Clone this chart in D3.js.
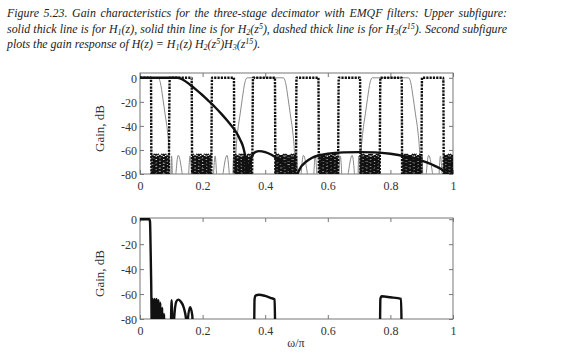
<!DOCTYPE html>
<html><head><meta charset="utf-8">
<script src="https://cdn.jsdelivr.net/npm/d3@7/dist/d3.min.js"></script>
<style>body{margin:0;background:#fff}svg{display:block}</style>
</head><body>
<svg id="c" width="582" height="356"></svg>
<script>
const xTicks = [0, 0.2, 0.4, 0.6, 0.8, 1];
const xTickLabels = ["0", "0.2", "0.4", "0.6", "0.8", "1"];
const yTicks = [0, -20, -40, -60, -80];
const yTickLabels = ["0", "-20", "-40", "-60", "-80"];

// H1(z): solid thick
const h1 = [[0,0],[0.12,0],[0.13,-0.6],[0.14,-2],[0.15,-3.8],[0.16,-5.8],[0.18,-10],[0.2,-14.5],[0.22,-19.5],[0.24,-24.5],[0.26,-30],[0.28,-36],[0.30,-42.5],[0.31,-46.5],[0.32,-51.5],[0.33,-58],[0.336,-66],[0.34,-80],[0.343,-95],
 [0.346,-80],[0.352,-70],[0.36,-64],[0.37,-61.5],[0.38,-61],[0.40,-61.8],[0.42,-64],[0.44,-67.5],[0.46,-72],[0.48,-78],[0.49,-84],[0.495,-95],
 [0.50,-84],[0.51,-76],[0.53,-70],[0.55,-66.5],[0.6,-63.2],[0.65,-62],[0.7,-61.8],[0.75,-62],[0.8,-63.2],[0.85,-65.5],[0.9,-69],[0.94,-73],[0.97,-77.5],[0.985,-82],[1,-90]];

// H2(z^5): solid thin gray
const h2 = [[0,0],[0.058,0],[0.065,-4],[0.073,-17],[0.08,-30],[0.088,-45],[0.093,-60],[0.096,-80],[0.098,-100],
 [0.101,-65],[0.106,-100],[0.122,-64.5],[0.150,-100],[0.160,-65],[0.171,-100],[0.185,-65],[0.200,-100],[0.215,-65],[0.229,-100],[0.240,-65],[0.250,-100],[0.278,-64.5],[0.294,-100],[0.299,-65],
 [0.302,-100],[0.304,-80],[0.307,-60],[0.312,-45],[0.32,-30],[0.327,-17],[0.335,-4],[0.342,0],[0.458,0],[0.465,-4],[0.473,-17],[0.48,-30],[0.488,-45],[0.493,-60],[0.496,-80],[0.498,-100],
 [0.501,-65],[0.506,-100],[0.522,-64.5],[0.550,-100],[0.560,-65],[0.571,-100],[0.585,-65],[0.600,-100],[0.615,-65],[0.629,-100],[0.640,-65],[0.650,-100],[0.678,-64.5],[0.694,-100],[0.699,-65],
 [0.702,-100],[0.704,-80],[0.707,-60],[0.712,-45],[0.72,-30],[0.727,-17],[0.735,-4],[0.742,0],[0.858,0],[0.865,-4],[0.873,-17],[0.88,-30],[0.888,-45],[0.893,-60],[0.896,-80],[0.898,-100],
 [0.901,-65],[0.906,-100],[0.922,-64.5],[0.950,-100],[0.960,-65],[0.971,-100],[0.985,-65],[1.0,-100]];

// H3(z^15): dashed thick
const h3 = [[0,0],
 [0.035,0],[0.037,-100],[0.040,-64],[0.043,-100],[0.046,-64],[0.049,-100],[0.052,-64],[0.055,-100],[0.058,-64],[0.061,-100],[0.064,-64],[0.067,-100],[0.070,-64],[0.073,-100],[0.076,-64],[0.079,-100],[0.082,-64],[0.085,-100],[0.088,-64],[0.091,-100],[0.095,0],
 [0.165,0],[0.167,-100],[0.170,-64],[0.173,-100],[0.176,-64],[0.179,-100],[0.182,-64],[0.185,-100],[0.188,-64],[0.191,-100],[0.194,-64],[0.197,-100],[0.200,-64],[0.203,-100],[0.206,-64],[0.209,-100],[0.212,-64],[0.215,-100],[0.218,-64],[0.221,-100],[0.224,-64],[0.227,-100],[0.230,0],
 [0.300,0],[0.302,-100],[0.305,-64],[0.308,-100],[0.311,-64],[0.314,-100],[0.317,-64],[0.320,-100],[0.323,-64],[0.326,-100],[0.329,-64],[0.332,-100],[0.335,-64],[0.338,-100],[0.341,-64],[0.344,-100],[0.347,-64],[0.350,-100],[0.353,-64],[0.356,-100],[0.359,-64],[0.361,0],
 [0.431,0],[0.433,-100],[0.436,-64],[0.439,-100],[0.442,-64],[0.445,-100],[0.448,-64],[0.451,-100],[0.454,-64],[0.457,-100],[0.460,-64],[0.463,-100],[0.466,-64],[0.469,-100],[0.472,-64],[0.475,-100],[0.478,-64],[0.481,-100],[0.484,-64],[0.487,-100],[0.490,-64],[0.493,-100],[0.496,-64],[0.498,-100],[0.500,0],
 [0.570,0],[0.572,-100],[0.575,-64],[0.578,-100],[0.581,-64],[0.584,-100],[0.587,-64],[0.590,-100],[0.593,-64],[0.596,-100],[0.599,-64],[0.602,-100],[0.605,-64],[0.608,-100],[0.611,-64],[0.614,-100],[0.617,-64],[0.620,-100],[0.623,-64],[0.626,-100],[0.629,-64],[0.632,-100],[0.635,0],
 [0.703,0],[0.705,-100],[0.708,-64],[0.711,-100],[0.714,-64],[0.717,-100],[0.720,-64],[0.723,-100],[0.726,-64],[0.729,-100],[0.732,-64],[0.735,-100],[0.738,-64],[0.741,-100],[0.744,-64],[0.747,-100],[0.750,-64],[0.753,-100],[0.756,-64],[0.759,-100],[0.762,-64],[0.765,-100],[0.768,0],
 [0.836,0],[0.838,-100],[0.841,-64],[0.844,-100],[0.847,-64],[0.850,-100],[0.853,-64],[0.856,-100],[0.859,-64],[0.862,-100],[0.865,-64],[0.868,-100],[0.871,-64],[0.874,-100],[0.877,-64],[0.880,-100],[0.883,-64],[0.886,-100],[0.889,-64],[0.892,-100],[0.895,-64],[0.898,-100],[0.901,0],
 [0.969,0],[0.971,-100],[0.974,-64],[0.977,-100],[0.980,-64],[0.983,-100],[0.986,-64],[0.989,-100],[0.992,-64],[0.995,-100],[0.998,-64],[1.0,-80]];

// H(z) = H1(z) H2(z^5) H3(z^15)
const hTotal = [[0,0],[0.03,0],[0.032,-2],[0.034,-25],[0.036,-55],[0.038,-100],[0.041,-64],[0.044,-100],[0.047,-64],[0.050,-100],[0.053,-64],[0.056,-100],[0.059,-65],[0.062,-100],[0.065,-67],[0.068,-100],[0.071,-71],[0.074,-100],[0.077,-76],[0.080,-100],
 [0.097,-100],[0.101,-65],[0.105,-100],[0.109,-80],[0.116,-66],[0.122,-64.5],[0.13,-66],[0.14,-71],[0.148,-82],[0.151,-100],[0.153,-80],[0.16,-70.5],[0.167,-77],[0.171,-100],
 [0.364,-100],[0.366,-64],[0.369,-61.2],[0.38,-60.5],[0.40,-61.5],[0.42,-63.3],[0.43,-64.3],[0.433,-100],
 [0.766,-100],[0.768,-64],[0.772,-61.8],[0.80,-62.6],[0.834,-63.9],[0.837,-100],[1,-100]];

const svg = d3.select("#c");
const L = 140, R = 453;
const x = d3.scaleLinear().domain([0, 1]).range([L, R]);
const font = "'Liberation Serif','Times New Roman',serif";

function panel(top, bottom, ymax, id) {
  const y = d3.scaleLinear().domain([-80, ymax]).range([bottom, top]);
  const g = svg.append("g");
  g.append("clipPath").attr("id", id).append("rect")
    .attr("x", L).attr("y", top).attr("width", R - L).attr("height", bottom - top);
  g.append("rect").attr("x", L).attr("y", top).attr("width", R - L).attr("height", bottom - top)
    .attr("fill", "none").attr("stroke", "#777").attr("stroke-width", 1);
  const ax = [
    d3.axisBottom(x).tickValues(xTicks).tickSize(-4).tickFormat((d, i) => xTickLabels[i]),
    d3.axisTop(x).tickValues(xTicks).tickSize(-4),
    d3.axisLeft(y).tickValues(yTicks).tickSize(-4).tickFormat((d, i) => yTickLabels[i]),
    d3.axisRight(y).tickValues(yTicks).tickSize(-4)
  ];
  const tr = [`translate(0,${bottom})`, `translate(0,${top})`, `translate(${L},0)`, `translate(${R},0)`];
  ax.forEach((a, i) => {
    const ag = g.append("g").attr("transform", tr[i]).call(a);
    ag.select(".domain").remove();
    ag.selectAll("line").attr("stroke", "#777");
    if (i === 1 || i === 3) { ag.selectAll("text").remove(); return; }
    ag.selectAll("text").attr("font-family", font).attr("font-size", 12).attr("fill", "#333");
    if (i === 0) ag.selectAll("text").attr("dy", "0.95em").attr("y", 5);
    if (i === 2) ag.selectAll("text").attr("x", -3).attr("dy", "0.35em");
  });
  g.append("text").attr("transform", `translate(104,${(top + bottom) / 2 + 5}) rotate(-90)`)
    .attr("text-anchor", "middle").attr("font-family", font).attr("font-size", 13).attr("fill", "#333")
    .text("Gain, dB");
  const plot = g.append("g").attr("clip-path", `url(#${id})`);
  return { y, plot };
}

function line(plot, y, data, stroke, width, dash) {
  const gen = d3.line().x(d => x(d[0])).y(d => y(d[1])).curve(d3.curveMonotoneX);
  const p = plot.append("path").datum(data).attr("d", gen)
    .attr("fill", "none").attr("stroke", stroke).attr("stroke-width", width)
    .attr("stroke-linejoin", "round");
  if (dash) p.attr("stroke-dasharray", dash);
  return p;
}

const up = panel(73, 174, 4, "clipA");
line(up.plot, up.y, h2, "#8a8a8a", 1);
line(up.plot, up.y, h3, "#111", 2.4, "2.2,1.1");
line(up.plot, up.y, h1, "#111", 2.4);

const lo = panel(218, 319, 1, "clipB");
line(lo.plot, lo.y, hTotal, "#111", 2.4);

svg.append("text").attr("x", 296).attr("y", 347).attr("text-anchor", "middle")
  .attr("font-family", font).attr("font-size", 12).attr("fill", "#333").text("ω/π");

// caption
const cap = svg.append("g").attr("font-family", font).attr("font-style", "italic")
  .attr("font-size", 11.9).attr("fill", "#222");
function capLine(yb, parts, justifyTo) {
  const t = cap.append("text").attr("x", 7).attr("y", yb);
  parts.forEach(p => {
    if (typeof p === "string") t.append("tspan").text(p);
    else t.append("tspan").attr("font-size", 8).attr("baseline-shift", p.sub ? "-25%" : "45%").text(p.t);
  });
  if (justifyTo) {
    const len = t.node().getComputedTextLength();
    const txt = parts.map(p => typeof p === "string" ? p : p.t).join("");
    const n = (txt.match(/ /g) || []).length;
    t.attr("word-spacing", Math.max(0, (justifyTo - 7 - len) / n));
  }
}
capLine(17, ["Figure 5.23. Gain characteristics for the three-stage decimator with EMQF filters: Upper subfigure:"], 507);
capLine(32.5, ["solid thick line is for H", {t: "1", sub: true}, "(z), solid thin line is for H", {t: "2", sub: true}, "(z", {t: "5"}, "), dashed thick line is for H", {t: "3", sub: true}, "(z", {t: "15"}, "). Second subfigure"], 507);
capLine(48, ["plots the gain response of H(z) = H", {t: "1", sub: true}, "(z) H", {t: "2", sub: true}, "(z", {t: "5"}, ")H", {t: "3", sub: true}, "(z", {t: "15"}, ")."]);
</script>
</body></html>
